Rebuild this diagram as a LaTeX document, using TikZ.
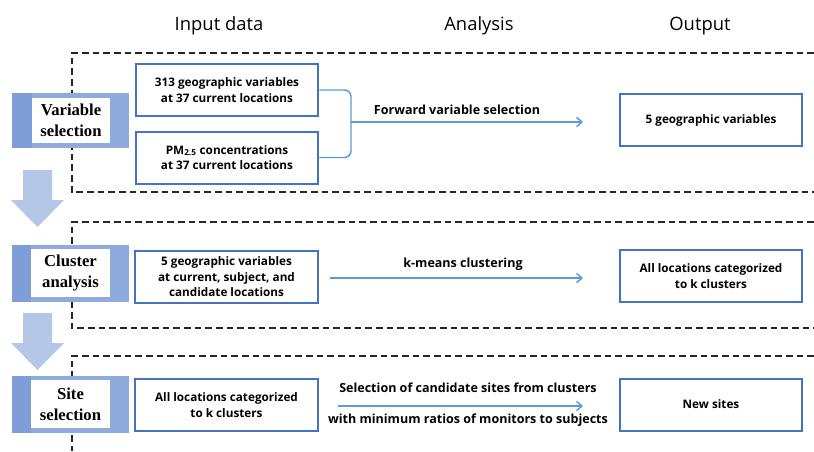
\documentclass[tikz,border=0pt]{standalone}
\usepackage{fontspec}
\setmainfont{Open Sans}
\newfontfamily\stepfont{Liberation Serif}
\usetikzlibrary{arrows.meta}
\definecolor{boxblue}{HTML}{4472C4}
\definecolor{arrblue}{HTML}{5B9BD5}
\definecolor{stepfill}{HTML}{8FAADC}
\definecolor{stepdark}{HTML}{7F9DD6}
\definecolor{bigarr}{HTML}{B4C7E7}
\begin{document}
\begin{tikzpicture}[x=0.75pt,y=-0.75pt,
  frame/.style={draw=black!85, line width=1.2pt, dash pattern=on 5pt off 3pt},
  databox/.style={draw=boxblue, line width=1.5pt, fill=white, minimum width=137pt, minimum height=39pt, align=center, inner sep=1pt, font=\fontsize{8.8}{11.6}\selectfont\bfseries},
  conn/.style={draw=arrblue, line width=1.1pt},
  arr/.style={conn, -{Straight Barb[length=4pt,width=7pt]}},
  lbl/.style={font=\fontsize{9.4}{11.5}\selectfont\bfseries, inner sep=0pt},
  hdr/.style={font=\fontsize{13.8}{15}\selectfont, inner sep=0pt},
  stepin/.style={fill=white, inner sep=0pt, align=center, font=\stepfont\fontsize{12.5}{15.5}\selectfont\bfseries},
  bigarrow/.style={fill=bigarr, draw=none}
]
\useasboundingbox (0,0) rectangle (814,451);

% headers
\node[hdr] (h1) at (219,26) {Input data};
\node[hdr] (h2) at (479,26) {Analysis};
\node[hdr] (h3) at (700,26) {Output};

% dashed frames
\draw[frame] (814,53) -- (72,53) -- (72,192) -- (814,192);
\draw[frame] (814,222) -- (72,222) -- (72,328) -- (814,328);
\draw[frame] (814,356) -- (72,356) -- (72,451);

% step boxes
\fill[stepfill] (12,93) rectangle (129,148);
\fill[stepdark] (12,93) rectangle (32,148);
\node[stepin, minimum width=58.5pt, minimum height=34pt] (s1) at (71,120.5) {Variable\\selection};

\fill[stepfill] (12,245) rectangle (129,302);
\fill[stepdark] (12,245) rectangle (31,302);
\node[stepin, minimum width=59pt, minimum height=36pt] (s2) at (70.5,273) {Cluster\\analysis};

\fill[stepfill] (12,376) rectangle (129,433);
\fill[stepdark] (12,376) rectangle (31,433);
\node[stepin, minimum width=59pt, minimum height=36pt] (s3) at (70.5,404) {Site\\selection};

% big arrows
\fill[bigarrow] (23,170) -- (52,170) -- (52,200) -- (64,200) -- (37.5,227) -- (11,200) -- (23,200) -- cycle;
\fill[bigarrow] (23,313) -- (52,313) -- (52,343) -- (64,343) -- (37.5,370) -- (11,343) -- (23,343) -- cycle;

% row 1
\node[databox] (a) at (227,90) {313 geographic variables\\at 37 current locations};
\node[databox] (b) at (227,157.5) {PM\textsubscript{2.5} concentrations\\at 37 current locations};
\node[databox] (o1) at (711,120) {5 geographic variables};
\coordinate (brk) at (351,122);
\coordinate (e1) at (583,122);
\draw[conn, rounded corners=5pt] (a.east) -| (brk) |- (b.east);
\draw[arr] (brk) -- (e1);
\node[lbl] (l1) at (457,110) {Forward variable selection};

% row 2
\node[databox] (c) at (226.5,277) {5 geographic variables\\at current, subject, and\\candidate locations};
\node[databox] (o2) at (711,276) {All locations categorized\\to k clusters};
\coordinate (s2a) at (330,278);
\coordinate (e2) at (583,278);
\draw[arr] (s2a) -- (e2);
\node[lbl] (l2) at (463,264) {k-means clustering};

% row 3
\node[databox] (d) at (226.5,405) {All locations categorized\\to k clusters};
\node[databox] (o3) at (711,404.5) {New sites};
\coordinate (s3a) at (338,406);
\coordinate (e3) at (583,406);
\draw[arr] (s3a) -- (e3);
\node[lbl] (l3) at (468,388) {Selection of candidate sites from clusters};
\node[lbl] (l4) at (468,420) {with minimum ratios of monitors to subjects};
\end{tikzpicture}
\end{document}
